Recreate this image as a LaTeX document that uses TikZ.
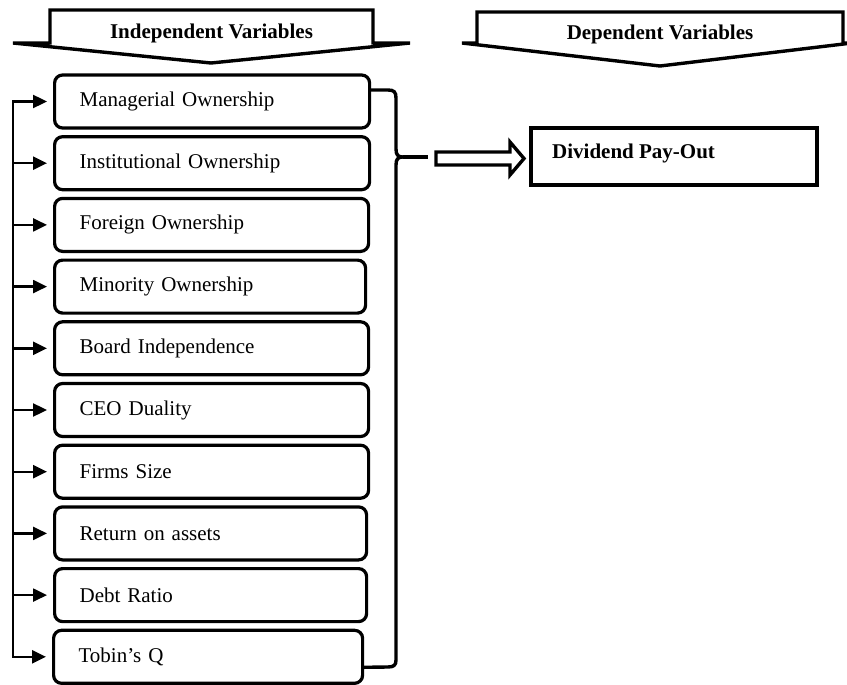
\documentclass[tikz,border=0pt]{standalone}
\usepackage{fontspec}
\setmainfont{Liberation Serif}
\usetikzlibrary{calc,arrows.meta}
\begin{document}
\begin{tikzpicture}[x=1pt,y=-1pt,
  hdr/.style={draw=black,line width=3.4pt,line join=miter,fill=white},
  hdrtext/.style={font=\fontsize{21}{25}\selectfont\bfseries,inner sep=0pt},
  varbox/.style={draw=black,line width=3.2pt,rounded corners=8pt,minimum height=53pt,
    inner xsep=25pt,inner ysep=0pt,anchor=west,align=left,
    font=\fontsize{21}{25}\selectfont},
  fbline/.style={line width=2.4pt},
  fbarrow/.style={line width=2.4pt,-{Triangle[length=14pt,width=13pt]},shorten >=6pt},
  bracel/.style={line width=3.4pt,line join=round},
  outbox/.style={draw=black,line width=3.4pt,minimum width=286pt,minimum height=57pt,inner sep=0pt},
  hollow/.style={draw=black,line width=3.4pt,fill=white,line join=miter}
]
\useasboundingbox (0,0) rectangle (847,685);
\clip (0,0) rectangle (847,685);

% headers
\draw[hdr] (13,43) -- (50,43) -- (50,10) -- (373,10) -- (373,43) -- (410,43) -- (211,63) -- cycle;
\node[hdrtext] (h1) at (211.5,33) {Independent Variables};
\draw[hdr] (462,43) -- (477,43) -- (477,12) -- (843,12) -- (843,43) -- (852,43) -- (660,66) -- cycle;
\node[hdrtext] (h2) at (660,34) {Dependent Variables};

% variable boxes
\node[varbox,text width=265pt] (b1) at (53,101.5) {Managerial Ownership};
\node[varbox,text width=265pt] (b2) at (53,163.2) {Institutional Ownership};
\node[varbox,text width=264pt] (b3) at (53,224.9) {Foreign Ownership};
\node[varbox,text width=261pt] (b4) at (53,286.6) {Minority Ownership};
\node[varbox,text width=264pt] (b5) at (53,348.3) {Board Independence};
\node[varbox,text width=264pt] (b6) at (53,410.0) {CEO Duality};
\node[varbox,text width=264pt] (b7) at (53,471.7) {Firms Size};
\node[varbox,text width=262pt] (b8) at (53,533.4) {Return on assets};
\node[varbox,text width=262pt] (b9) at (53,595.1) {Debt Ratio};
\node[varbox,text width=259pt] (b10) at (52,656.8) {Tobin’s Q};

% feedback line on the left
\coordinate (fbtop) at (13,101.5);
\coordinate (fbbot) at (13,656.8);
\draw[fbline,line cap=rect] (fbtop) -- (fbbot);
\foreach \i in {1,...,10}{
  \draw[fbarrow] (b\i.west -| fbtop) -- (b\i.west);
}

% brace
\coordinate (btop) at ($(b1.east)+(0,-11.5)$);
\coordinate (bbot) at ($(b10.east)+(0,10.5)$);
\coordinate (bcusp) at (403,157);
\coordinate (btip) at (428,157);
\draw[bracel] (btop) -- (388,90) .. controls (394,90) and (396,92) .. (396,98)
  -- (396,149) .. controls (396,155) and (398,157) .. (bcusp)
  .. controls (398,157) and (396,159) .. (396,165)
  -- (396,660) .. controls (396,665) and (394,667) .. (388,667) -- (bbot);
\draw[bracel] (bcusp) -- (btip);

% output box
\node[outbox] (dv) at (674,156.5) {};
\node[font=\fontsize{21}{25}\selectfont\bfseries,anchor=west,inner sep=0pt] (dvt) at (552,153) {Dividend Pay-Out};

% hollow arrow
\coordinate (ha) at (436,158.5);
\draw[hollow] (ha) ++(0,-6.5) -- ++(74,0) -- ++(0,-10) -- (524,158.5)
  -- (510,175) -- ++(0,-10) -- ++(-74,0) -- cycle;
\end{tikzpicture}
\end{document}
